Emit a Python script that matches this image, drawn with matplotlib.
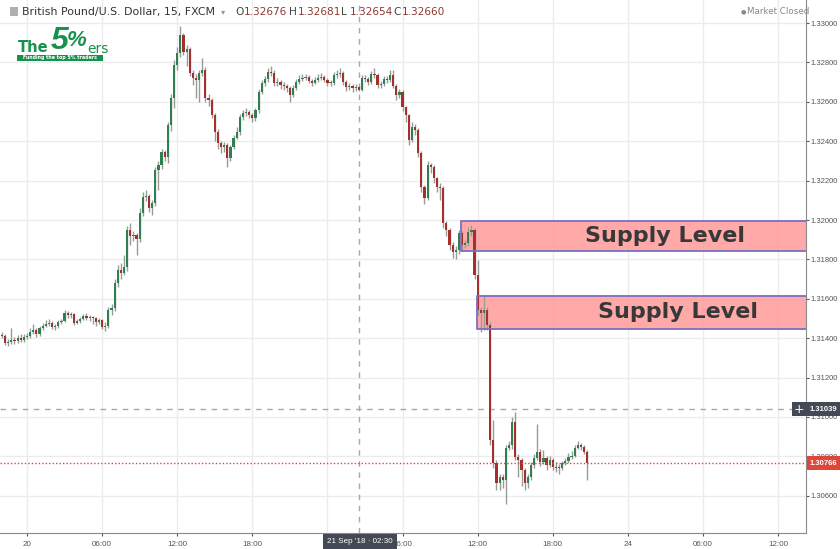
import numpy as np
import matplotlib.pyplot as plt
from matplotlib.patches import Rectangle
from matplotlib.transforms import blended_transform_factory

# GBP/USD 15 min candles, bar 0 = 20 Sep 00:00 (weekend gap removed)
start_bar = -8
first_open = 1.31415
closes = [
    1.31410, 1.31375, 1.31380, 1.31390, 1.31385, 1.31400, 1.31390, 1.31405, 1.31410, 1.31430,
    1.31441, 1.31420, 1.31451, 1.31461, 1.31471, 1.31476, 1.31456, 1.31461, 1.31481, 1.31486,
    1.31527, 1.31517, 1.31522, 1.31476, 1.31486, 1.31496, 1.31512, 1.31502, 1.31507, 1.31502,
    1.31481, 1.31491, 1.31456, 1.31461, 1.31542, 1.31552, 1.31679, 1.31745, 1.31730, 1.31761,
    1.31949, 1.31918, 1.31923, 1.31903, 1.32035, 1.32116, 1.32121, 1.32060, 1.32086, 1.32253,
    1.32279, 1.32345, 1.32319, 1.32482, 1.32619, 1.32787, 1.32848, 1.32939, 1.32853, 1.32868,
    1.32746, 1.32721, 1.32711, 1.32746, 1.32761, 1.32619, 1.32609, 1.32533, 1.32446, 1.32391,
    1.32370, 1.32380, 1.32314, 1.32370, 1.32416, 1.32446, 1.32523, 1.32543, 1.32548, 1.32533,
    1.32518, 1.32558, 1.32650, 1.32695, 1.32716, 1.32751, 1.32746, 1.32695, 1.32700, 1.32685,
    1.32680, 1.32670, 1.32634, 1.32670, 1.32700, 1.32716, 1.32721, 1.32726, 1.32706, 1.32695,
    1.32711, 1.32721, 1.32726, 1.32711, 1.32695, 1.32696, 1.32736, 1.32741, 1.32746, 1.32700,
    1.32675, 1.32680, 1.32670, 1.32676, 1.32660, 1.32721, 1.32716, 1.32700, 1.32741, 1.32736,
    1.32685, 1.32690, 1.32716, 1.32711, 1.32736, 1.32680, 1.32634, 1.32650, 1.32573, 1.32533,
    1.32406, 1.32472, 1.32457, 1.32340, 1.32167, 1.32111, 1.32279, 1.32269, 1.32213, 1.32167,
    1.32162, 1.31984, 1.31949, 1.31872, 1.31837, 1.31847, 1.31933, 1.31872, 1.31883, 1.31938,
    1.31949, 1.31720, 1.31542, 1.31527, 1.31542, 1.31466, 1.30882, 1.30765, 1.30663, 1.30694,
    1.30679, 1.30841, 1.30856, 1.30973, 1.30795, 1.30780, 1.30729, 1.30663, 1.30694, 1.30755,
    1.30790, 1.30821, 1.30770, 1.30790, 1.30755, 1.30780, 1.30745, 1.30743, 1.30740, 1.30765,
    1.30775, 1.30795, 1.30801, 1.30841, 1.30856, 1.30846, 1.30821, 1.30766,
]
highs = [
    1.31430, 1.31420, 1.31395, 1.31451, 1.31405, 1.31415, 1.31420, 1.31420, 1.31425, 1.31450,
    1.31470, 1.31450, 1.31460, 1.31475, 1.31490, 1.31500, 1.31485, 1.31470, 1.31490, 1.31500,
    1.31545, 1.31540, 1.31535, 1.31530, 1.31500, 1.31510, 1.31525, 1.31530, 1.31520, 1.31515,
    1.31510, 1.31505, 1.31500, 1.31480, 1.31560, 1.31575, 1.31700, 1.31770, 1.31780, 1.31822,
    1.31970, 1.31984, 1.31945, 1.31935, 1.32060, 1.32140, 1.32153, 1.32130, 1.32100, 1.32270,
    1.32300, 1.32360, 1.32356, 1.32500, 1.32640, 1.32810, 1.32880, 1.32985, 1.32950, 1.32890,
    1.32880, 1.32760, 1.32740, 1.32760, 1.32822, 1.32775, 1.32640, 1.32620, 1.32545, 1.32460,
    1.32400, 1.32395, 1.32390, 1.32380, 1.32430, 1.32470, 1.32540, 1.32560, 1.32570, 1.32560,
    1.32545, 1.32570, 1.32665, 1.32710, 1.32730, 1.32770, 1.32782, 1.32760, 1.32720, 1.32710,
    1.32700, 1.32690, 1.32680, 1.32685, 1.32715, 1.32735, 1.32740, 1.32740, 1.32735, 1.32715,
    1.32725, 1.32740, 1.32745, 1.32735, 1.32720, 1.32710, 1.32750, 1.32760, 1.32770, 1.32755,
    1.32710, 1.32695, 1.32690, 1.32690, 1.32681, 1.32735, 1.32735, 1.32725, 1.32755, 1.32770,
    1.32745, 1.32705, 1.32730, 1.32730, 1.32760, 1.32760, 1.32690, 1.32665, 1.32660, 1.32580,
    1.32540, 1.32500, 1.32485, 1.32465, 1.32350, 1.32180, 1.32300, 1.32290, 1.32280, 1.32220,
    1.32190, 1.32175, 1.31995, 1.31960, 1.31890, 1.31870, 1.31950, 1.31945, 1.31900, 1.31965,
    1.31975, 1.31960, 1.31797, 1.31560, 1.31614, 1.31560, 1.31480, 1.30984, 1.30780, 1.30710,
    1.30710, 1.30860, 1.30880, 1.30999, 1.31024, 1.30810, 1.30790, 1.30740, 1.30710, 1.30770,
    1.30810, 1.30963, 1.30840, 1.30830, 1.30800, 1.30800, 1.30790, 1.30770, 1.30760, 1.30775,
    1.30790, 1.30815, 1.30825, 1.30860, 1.30880, 1.30870, 1.30860, 1.30830,
]
lows = [
    1.31400, 1.31365, 1.31360, 1.31370, 1.31370, 1.31375, 1.31380, 1.31380, 1.31395, 1.31400,
    1.31420, 1.31405, 1.31410, 1.31440, 1.31455, 1.31460, 1.31445, 1.31440, 1.31450, 1.31470,
    1.31480, 1.31505, 1.31505, 1.31465, 1.31470, 1.31475, 1.31490, 1.31490, 1.31485, 1.31470,
    1.31460, 1.31470, 1.31445, 1.31435, 1.31450, 1.31520, 1.31540, 1.31660, 1.31700, 1.31720,
    1.31740, 1.31872, 1.31895, 1.31822, 1.31890, 1.32020, 1.32095, 1.32040, 1.32025, 1.32070,
    1.32153, 1.32260, 1.32300, 1.32290, 1.32450, 1.32568, 1.32760, 1.32830, 1.32840, 1.32780,
    1.32730, 1.32685, 1.32620, 1.32600, 1.32730, 1.32600, 1.32580, 1.32520, 1.32400, 1.32360,
    1.32340, 1.32345, 1.32269, 1.32300, 1.32360, 1.32410, 1.32430, 1.32510, 1.32530, 1.32520,
    1.32497, 1.32505, 1.32545, 1.32640, 1.32680, 1.32700, 1.32730, 1.32680, 1.32680, 1.32665,
    1.32660, 1.32650, 1.32599, 1.32625, 1.32660, 1.32690, 1.32705, 1.32710, 1.32695, 1.32680,
    1.32690, 1.32700, 1.32710, 1.32700, 1.32680, 1.32680, 1.32685, 1.32720, 1.32725, 1.32685,
    1.32655, 1.32660, 1.32650, 1.32655, 1.32654, 1.32655, 1.32700, 1.32685, 1.32690, 1.32720,
    1.32670, 1.32670, 1.32680, 1.32695, 1.32700, 1.32670, 1.32610, 1.32620, 1.32555, 1.32500,
    1.32380, 1.32395, 1.32430, 1.32320, 1.32140, 1.32080, 1.32100, 1.32240, 1.32190, 1.32140,
    1.32100, 1.31960, 1.31920, 1.31850, 1.31806, 1.31800, 1.31830, 1.31850, 1.31860, 1.31870,
    1.31920, 1.31700, 1.31520, 1.31431, 1.31440, 1.31440, 1.30860, 1.30740, 1.30630, 1.30628,
    1.30640, 1.30556, 1.30830, 1.30840, 1.30780, 1.30694, 1.30650, 1.30628, 1.30640, 1.30680,
    1.30740, 1.30780, 1.30750, 1.30760, 1.30730, 1.30745, 1.30730, 1.30720, 1.30710, 1.30730,
    1.30755, 1.30765, 1.30785, 1.30795, 1.30835, 1.30830, 1.30810, 1.30679,
]

tick_bars = [0, 24, 48, 72, 96, 120, 144, 168, 192, 216, 240]
tick_labels = ["20", "06:00", "12:00", "18:00", "21", "06:00", "12:00", "18:00", "24", "06:00", "12:00"]
price_ticks = [1.306, 1.308, 1.310, 1.312, 1.314, 1.316, 1.318, 1.320, 1.322, 1.324, 1.326, 1.328, 1.330]

# supply zones: (start bar, low, high)
zones = [(138.8, 1.31843, 1.31997), (143.9, 1.31447, 1.31616)]
zone_label = "Supply Level"

cross_bar = 106
cross_price = 1.31039
cross_time = "21 Sep '18 \u00b7 02:30"
last_price = 1.30766
title = "British Pound/U.S. Dollar, 15, FXCM"
ohlc = [("O", "1.32676"), ("H", "1.32681"), ("L", "1.32654"), ("C", "1.32660")]

up_col = "#2f7f50"
down_col = "#a3302a"
wick_col = "#9a9a9a"
grid_col = "#ececec"
logo_green = "#17924c"
label_dark = "#434a56"
axis_font = ["Liberation Sans", "DejaVu Sans"]

closes = np.array(closes)
highs = np.array(highs)
lows = np.array(lows)
opens = np.concatenate([[first_open], closes[:-1]])
bars = np.arange(start_bar, start_bar + len(closes))

fig = plt.figure(figsize=(8.4, 5.49), dpi=100)
ax = fig.add_axes([0, 1 - 533 / 549, 806 / 840, 533 / 549])
ax.set_xlim(-8.63, 248.9)
ax.set_ylim(1.30411, 1.33117)
px_price = (1.33117 - 1.30411) / 533   # price per pixel

# grid
for b in tick_bars:
    ax.axvline(b, color=grid_col, lw=1, zorder=0)
for p in price_ticks:
    ax.axhline(p, color=grid_col, lw=1, zorder=0)

# candles
up = closes >= opens
body_lo = np.minimum(opens, closes)
body_h = np.maximum(np.abs(closes - opens), 0.00004)
ax.vlines(bars, lows, highs, color=wick_col, lw=1, zorder=3)
ax.bar(bars, body_h, bottom=body_lo, width=0.7,
       color=np.where(up, up_col, down_col), linewidth=0, zorder=4)

# supply zones
for x0, lo, hi in zones:
    ax.add_patch(Rectangle((x0, lo), 260 - x0, hi - lo, facecolor="#ff9a9a", alpha=0.85,
                           edgecolor="none", zorder=2))
    ax.plot([260, x0, x0, 260], [hi, hi, lo, lo], color="#7a70c0", lw=1.3, zorder=5)
ax.text(204, (zones[0][1] + zones[0][2]) / 2, zone_label, fontsize=16, fontweight="bold",
        color="#383838", ha="center", va="center", zorder=6)
ax.text(208, (zones[1][1] + zones[1][2]) / 2, zone_label, fontsize=16, fontweight="bold",
        color="#383838", ha="center", va="center", zorder=6)

# crosshair and price line
ax.axvline(cross_bar, color="#a8a8a8", lw=1, ls=(0, (4, 4)), zorder=1)
ax.axhline(cross_price, color="#a8a8a8", lw=1, ls=(0, (4, 4)), zorder=1)
ax.axhline(last_price, color="#e0453a", lw=1, ls=(0, (1, 1.5)), zorder=5)

# axes styling
for s in ["top", "left"]:
    ax.spines[s].set_visible(False)
for s in ["right", "bottom"]:
    ax.spines[s].set_color("#8a8a8a")
ax.yaxis.tick_right()
ax.set_yticks(price_ticks)
ax.set_yticklabels([f"{p:.5f}" for p in price_ticks], family=axis_font, fontsize=5.5)
ax.set_xticks(tick_bars)
ax.set_xticklabels(tick_labels, family=axis_font, fontsize=5.8)
ax.tick_params(axis="both", colors="#555555", length=2.5, width=0.8, pad=1)
ax.tick_params(axis="x", pad=3)

# price-scale labels
ty = blended_transform_factory(ax.transAxes, ax.transData)
ax.add_patch(Rectangle((792 / 806, cross_price - 7 * px_price), 48 / 806, 14 * px_price,
                       transform=ty, fc=label_dark, ec="none", zorder=10, clip_on=False))
ax.text(798.5 / 806, cross_price, "+", transform=ty, fontsize=9, color="white",
        ha="center", va="center", zorder=11, clip_on=False)
ax.text(1.0 + 4 / 806, cross_price, "1.31039", transform=ty, fontsize=5.5, color="white",
        fontweight="bold", family=axis_font, ha="left", va="center", zorder=11, clip_on=False)
ax.add_patch(Rectangle((1.0 + 1 / 806, last_price - 7 * px_price), 34 / 806, 14 * px_price,
                       transform=ty, fc="#e0453a", ec="none", zorder=10, clip_on=False))
ax.text(1.0 + 4 / 806, last_price, "1.30766", transform=ty, fontsize=5.5, color="white",
        fontweight="bold", family=axis_font, ha="left", va="center", zorder=11, clip_on=False)

# time-scale label for the crosshair
tx = blended_transform_factory(ax.transData, ax.transAxes)
ax.add_patch(Rectangle((94.6, -16 / 533), 23.6, 15 / 533, transform=tx,
                       fc=label_dark, ec="none", zorder=10, clip_on=False))
ax.text(106.4, -8.5 / 533, cross_time, transform=tx, fontsize=5.8, color="white",
        family=axis_font, ha="center", va="center", zorder=11, clip_on=False)

# header
fy = lambda y: 1 - y / 549
fig.patches.append(Rectangle((10 / 840, fy(16)), 8 / 840, 9 / 549, transform=fig.transFigure,
                             fc="#b0b0b0", ec="none"))
fig.text(22 / 840, fy(12), title, fontsize=7.9, color="#333333", va="center")
fig.text(221 / 840, fy(12), "\u25be", fontsize=6, color="#999999", va="center")
for (lab, val), x in zip(ohlc, [235, 289, 341, 393]):
    fig.text(x / 840, fy(12), lab, fontsize=7.6, color="#444444", va="center")
    fig.text((x + 9) / 840, fy(12), val, fontsize=7.6, color="#8e3b33", va="center")
fig.text(741 / 840, fy(12), "\u25cf", fontsize=4.5, color="#888888", va="center")
fig.text(747 / 840, fy(12), "Market Closed", fontsize=6.3, color="#888888", va="center")

# logo
fig.text(18 / 840, fy(48), "The", fontsize=10.5, fontweight="bold", color=logo_green, va="center")
fig.text(51 / 840, fy(41), "5", fontsize=23, fontweight="bold", style="italic",
         family=axis_font, color=logo_green, va="center")
fig.text(67 / 840, fy(40), "%", fontsize=16, fontweight="bold", style="italic",
         family=axis_font, color=logo_green, va="center")
fig.text(87 / 840, fy(49), "ers", fontsize=10, color=logo_green, va="center")
fig.patches.append(Rectangle((17 / 840, fy(61)), 86 / 840, 6 / 549, transform=fig.transFigure,
                             fc=logo_green, ec="none"))
fig.text(60 / 840, fy(58), "Funding the top 5% traders", fontsize=3.4, fontweight="bold",
         color="white", ha="center", va="center")

fig.savefig("out.png", dpi=100)
